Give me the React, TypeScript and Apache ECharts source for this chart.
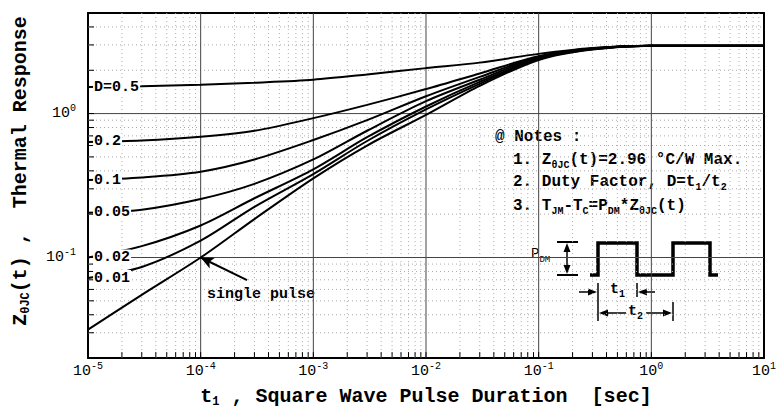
import React, { useEffect, useRef } from 'react';
import * as echarts from 'echarts';

const FONT = "'Liberation Mono', 'DejaVu Sans Mono', monospace";

// pulse duration t1 [sec]
const pulseDurations = [1e-5, 3e-5, 1e-4, 3e-4, 1e-3, 3e-3, 1e-2, 3e-2, 1e-1, 3e-1, 1, 3, 10];
// curve labels
const curveLabels = ['D=0.5', '0.2', '0.1', '0.05', '0.02', '0.01', ''];
// thermal response values (°C/W) per duty factor
const zD05 = [1.53, 1.55, 1.585, 1.64, 1.72, 1.87, 2.07, 2.26, 2.6, 2.86, 2.96, 2.96, 2.96];
const zD02 = [0.635, 0.65, 0.69, 0.76, 0.93, 1.15, 1.48, 1.9, 2.5, 2.84, 2.96, 2.96, 2.96];
const zD01 = [0.345, 0.36, 0.395, 0.48, 0.655, 0.9, 1.32, 1.8, 2.48, 2.83, 2.96, 2.96, 2.96];
const zD005 = [0.205, 0.215, 0.255, 0.325, 0.48, 0.76, 1.22, 1.72, 2.46, 2.82, 2.96, 2.96, 2.96];
const zD002 = [0.1, 0.12, 0.167, 0.258, 0.41, 0.685, 1.12, 1.66, 2.42, 2.81, 2.96, 2.96, 2.96];
const zD001 = [0.072, 0.086, 0.131, 0.225, 0.38, 0.645, 1.07, 1.61, 2.4, 2.8, 2.96, 2.96, 2.96];
const zSingle = [0.0315, 0.055, 0.1, 0.185, 0.355, 0.6, 0.98, 1.56, 2.36, 2.79, 2.96, 2.96, 2.96];
const curveValues = [zD05, zD02, zD01, zD005, zD002, zD001, zSingle];

// axes
const xMin = 1e-5;
const xMax = 10;
const yMin = 0.02;
const yMax = 5;
const xDecades = [1e-5, 1e-4, 1e-3, 1e-2, 1e-1, 1];
const xInnerDecades = [1e-4, 1e-3, 1e-2, 1e-1, 1];
const yDecades = [0.01, 0.1, 1];
const yInnerDecades = [0.1, 1];
const minorSteps = [2, 3, 4, 5, 6, 7, 8, 9];

// "single pulse" annotation arrow (head, tail)
const singlePulseArrow = [[1e-4, 0.1], [2.58e-4, 0.0697]];

const subRich = {
  a: { fontFamily: FONT, fontSize: 15, fontWeight: 'bold', color: '#000', lineHeight: 20 },
  s: { fontFamily: FONT, fontSize: 10, fontWeight: 'bold', color: '#000', lineHeight: 10, verticalAlign: 'bottom', padding: [8, 0, 0, 0] },
};
const noteRich = {
  a: { fontFamily: FONT, fontSize: 16, fontWeight: 'bold', color: '#000', lineHeight: 21 },
  s: { fontFamily: FONT, fontSize: 10, fontWeight: 'bold', color: '#000', lineHeight: 10, verticalAlign: 'bottom', padding: [8, 0, 0, 0] },
};
const bigRich = {
  a: { fontFamily: FONT, fontSize: 20, fontWeight: 'bold', color: '#000', lineHeight: 24 },
  s: { fontFamily: FONT, fontSize: 12, fontWeight: 'bold', color: '#000', lineHeight: 12, verticalAlign: 'bottom', padding: [9, 0, 0, 0] },
};

function powLabel(v: number) {
  const e = Math.log10(v);
  const r = Math.round(e);
  if (Math.abs(e - r) > 1e-6) return '';
  return `{b|10}{sup|${r}}`;
}

const tickRich = {
  b: { fontFamily: FONT, fontSize: 15, color: '#000', lineHeight: 20 },
  sup: { fontFamily: FONT, fontSize: 10, color: '#000', lineHeight: 10, verticalAlign: 'top', padding: [0, 0, 10, 0] },
};

function vLine(stroke: string, dash: number[] | null) {
  return (params: any, api: any) => {
    const v = api.value(0);
    const p0 = api.coord([v, yMin]);
    const p1 = api.coord([v, yMax]);
    return {
      type: 'group',
      children: [
        { type: 'line', shape: { x1: p0[0], y1: p0[1], x2: p1[0], y2: p1[1] }, style: { stroke, lineWidth: 1, lineDash: dash || undefined } },
        { type: 'line', shape: { x1: p0[0], y1: p0[1], x2: p0[0], y2: p0[1] - 6 }, style: { stroke: '#000', lineWidth: 1 } },
      ],
    };
  };
}
function hLine(stroke: string, dash: number[] | null) {
  return (params: any, api: any) => {
    const v = api.value(1);
    const p0 = api.coord([xMin, v]);
    const p1 = api.coord([xMax, v]);
    return {
      type: 'group',
      children: [
        { type: 'line', shape: { x1: p0[0], y1: p0[1], x2: p1[0], y2: p1[1] }, style: { stroke, lineWidth: 1, lineDash: dash || undefined } },
        { type: 'line', shape: { x1: p0[0], y1: p0[1], x2: p0[0] + 6, y2: p0[1] }, style: { stroke: '#000', lineWidth: 1 } },
      ],
    };
  };
}

export default function App() {
  const ref = useRef<HTMLDivElement>(null);
  useEffect(() => {
    if (!ref.current) return;
    const chart = echarts.init(ref.current, null, { renderer: 'svg' });

    const xMinor = xDecades.flatMap((d) => minorSteps.map((m) => m * d));
    const yMinor = yDecades.flatMap((d) => minorSteps.map((m) => m * d)).filter((v) => v > yMin && v < yMax);

    const axisLine = { show: true, onZero: false, lineStyle: { color: '#000', width: 2 } };

    const curveSeries = curveValues.map((vals, k) => ({
      type: 'line',
      name: curveLabels[k] || 'single pulse',
      smooth: 0.3,
      showSymbol: true,
      symbol: 'circle',
      symbolSize: 0.1,
      itemStyle: { color: 'rgba(0,0,0,0)' },
      z: 5,
      lineStyle: { color: '#000', width: 2 },
      label: { show: false },
      data: pulseDurations.map((t, i) =>
        i === 0 && curveLabels[k]
          ? {
              value: [t, vals[i]],
              label: {
                show: true,
                position: 'right',
                distance: 5,
                formatter: curveLabels[k],
                fontFamily: FONT,
                fontSize: 15,
                fontWeight: 'bold',
                color: '#000',
                backgroundColor: '#fff',
                padding: [1, 1, 0, 1],
              },
            }
          : [t, vals[i]]
      ),
      markLine:
        k === curveValues.length - 1
          ? {
              silent: true,
              symbol: ['arrow', 'none'],
              symbolSize: [9, 13],
              lineStyle: { color: '#000', width: 2, type: 'solid' },
              label: { show: false },
              data: [[{ coord: singlePulseArrow[0] }, { coord: singlePulseArrow[1] }]],
            }
          : undefined,
    }));

    const pulseY1 = 243;
    const pulseY0 = 275;
    const graphic: any[] = [
      {
        type: 'text',
        x: 20,
        y: 171,
        rotation: Math.PI / 2,
        style: { text: '{a|Z}{s|θJC}{a|(t) ,  Thermal Response}', rich: bigRich, align: 'center', verticalAlign: 'middle' },
      },
      { type: 'text', x: 495, y: 137, style: { text: '{a|@ Notes :}', rich: noteRich, verticalAlign: 'middle', backgroundColor: '#fff' } },
      { type: 'text', x: 513, y: 160, style: { text: '{a|1. Z}{s|θJC}{a|(t)=2.96 °C/W Max.}', rich: noteRich, verticalAlign: 'middle', backgroundColor: '#fff' } },
      { type: 'text', x: 513, y: 182, style: { text: '{a|2. Duty Factor, D=t}{s|1}{a|/t}{s|2}', rich: noteRich, verticalAlign: 'middle', backgroundColor: '#fff' } },
      { type: 'text', x: 513, y: 206, style: { text: '{a|3. T}{s|JM}{a|-T}{s|C}{a|=P}{s|DM}{a|*Z}{s|θJC}{a|(t)}', rich: noteRich, verticalAlign: 'middle', backgroundColor: '#fff' } },
      { type: 'text', x: 207, y: 294, style: { text: '{a|single pulse}', rich: subRich, verticalAlign: 'middle', backgroundColor: '#fff' } },
      // pulse waveform
      {
        type: 'polyline',
        shape: { points: [[590, pulseY0], [598, pulseY0], [598, pulseY1], [637, pulseY1], [637, pulseY0], [673, pulseY0], [673, pulseY1], [710, pulseY1], [710, pulseY0], [718, pulseY0]] },
        style: { stroke: '#000', lineWidth: 3.5, fill: 'none' },
      },
      // P_DM
      { type: 'text', x: 531, y: 254, style: { text: '{a|P}{s|DM}', rich: { a: { ...subRich.a, fontSize: 14, fontWeight: 'normal' }, s: { ...subRich.s, fontSize: 9, fontWeight: 'normal' } }, verticalAlign: 'middle' } },
      { type: 'line', shape: { x1: 557, y1: 242, x2: 578, y2: 242 }, style: { stroke: '#000', lineWidth: 2 } },
      { type: 'line', shape: { x1: 557, y1: 275, x2: 578, y2: 275 }, style: { stroke: '#000', lineWidth: 2 } },
      { type: 'line', shape: { x1: 567, y1: 250, x2: 567, y2: 267 }, style: { stroke: '#000', lineWidth: 1.5 } },
      { type: 'polygon', shape: { points: [[567, 243], [563.5, 252], [570.5, 252]] }, style: { fill: '#000' } },
      { type: 'polygon', shape: { points: [[567, 274], [563.5, 265], [570.5, 265]] }, style: { fill: '#000' } },
      // t1 marks
      { type: 'line', shape: { x1: 598, y1: 283, x2: 598, y2: 321 }, style: { stroke: '#000', lineWidth: 1.5 } },
      { type: 'line', shape: { x1: 637, y1: 283, x2: 637, y2: 297 }, style: { stroke: '#000', lineWidth: 1.5 } },
      { type: 'line', shape: { x1: 579, y1: 292, x2: 590, y2: 292 }, style: { stroke: '#000', lineWidth: 1.5 } },
      { type: 'polygon', shape: { points: [[597, 292], [588, 288.5], [588, 295.5]] }, style: { fill: '#000' } },
      { type: 'line', shape: { x1: 646, y1: 292, x2: 655, y2: 292 }, style: { stroke: '#000', lineWidth: 1.5 } },
      { type: 'polygon', shape: { points: [[638, 292], [647, 288.5], [647, 295.5]] }, style: { fill: '#000' } },
      { type: 'text', x: 610, y: 289, style: { text: '{a|t}{s|1}', rich: subRich, verticalAlign: 'middle' } },
      // t2 marks
      { type: 'line', shape: { x1: 673, y1: 302, x2: 673, y2: 321 }, style: { stroke: '#000', lineWidth: 1.5 } },
      { type: 'line', shape: { x1: 605, y1: 313, x2: 626, y2: 313 }, style: { stroke: '#000', lineWidth: 1.5 } },
      { type: 'polygon', shape: { points: [[599, 313], [608, 309.5], [608, 316.5]] }, style: { fill: '#000' } },
      { type: 'line', shape: { x1: 646, y1: 313, x2: 666, y2: 313 }, style: { stroke: '#000', lineWidth: 1.5 } },
      { type: 'polygon', shape: { points: [[672, 313], [663, 309.5], [663, 316.5]] }, style: { fill: '#000' } },
      { type: 'text', x: 628, y: 311, style: { text: '{a|t}{s|2}', rich: subRich, verticalAlign: 'middle' } },
    ];

    const option: any = {
      animation: false,
      backgroundColor: '#fff',
      grid: { left: 88, top: 13, right: 10, bottom: 52, show: false },
      xAxis: [
        {
          type: 'log',
          logBase: 10,
          min: xMin,
          max: xMax,
          axisLine,
          axisTick: { show: false },
          splitLine: { show: false },
          minorTick: { show: false },
          axisLabel: { formatter: powLabel, rich: tickRich, margin: 3 },
          name: '{a|t}{s|1}{a| , Square Wave Pulse Duration  [sec]}',
          nameLocation: 'middle',
          nameGap: 17,
          nameTextStyle: { rich: bigRich, verticalAlign: 'top' },
        },
        {
          type: 'log',
          logBase: 10,
          min: xMin,
          max: xMax,
          position: 'top',
          axisLine,
          axisTick: { show: false },
          splitLine: { show: false },
          axisLabel: { show: false },
        },
      ],
      yAxis: [
        {
          type: 'log',
          logBase: 10,
          min: yMin,
          max: yMax,
          axisLine,
          axisTick: { show: false },
          splitLine: { show: false },
          axisLabel: { formatter: powLabel, rich: tickRich, margin: 12, showMinLabel: false, showMaxLabel: false },
        },
        {
          type: 'log',
          logBase: 10,
          min: yMin,
          max: yMax,
          position: 'right',
          axisLine,
          axisTick: { show: false },
          splitLine: { show: false },
          axisLabel: { show: false },
        },
      ],
      series: [
        { type: 'custom', silent: true, z: 1, renderItem: vLine('#aaa', [1, 3]), data: xMinor.map((v) => [v, 1]), encode: { x: 0, y: 1 } },
        { type: 'custom', silent: true, z: 1, renderItem: hLine('#aaa', [1, 3]), data: yMinor.map((v) => [1e-3, v]), encode: { x: 0, y: 1 } },
        { type: 'custom', silent: true, z: 2, renderItem: vLine('#444', null), data: xInnerDecades.map((v) => [v, 1]), encode: { x: 0, y: 1 } },
        { type: 'custom', silent: true, z: 2, renderItem: hLine('#444', null), data: yInnerDecades.map((v) => [1e-3, v]), encode: { x: 0, y: 1 } },
        ...curveSeries,
      ],
      graphic,
    };
    chart.setOption(option);
    return () => chart.dispose();
  }, []);
  return <div ref={ref} style={{ position: 'absolute', left: 0, top: 0, width: 779, height: 413, background: '#fff' }} />;
}
